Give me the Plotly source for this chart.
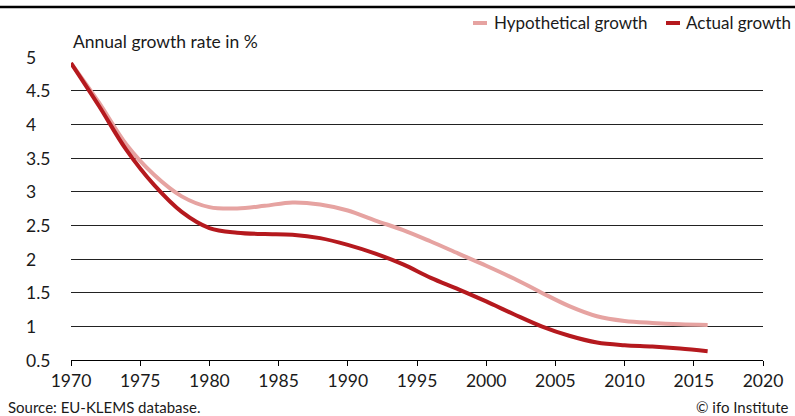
import plotly.graph_objects as go

# ---- data ----
years_actual = [1970, 1972, 1974, 1976, 1978, 1980, 1982, 1984, 1986, 1988, 1990, 1992, 1994,
                1996, 1998, 2000, 2002, 2004, 2006, 2008, 2010, 2012, 2014, 2016]
actual_growth = [4.91, 4.28, 3.62, 3.10, 2.70, 2.46, 2.39, 2.37, 2.36, 2.31, 2.21, 2.08, 1.92,
                 1.72, 1.55, 1.37, 1.18, 1.00, 0.86, 0.76, 0.72, 0.70, 0.67, 0.63]

years_hyp = [1970, 1972, 1974, 1976, 1978, 1980, 1982, 1984, 1986, 1988, 1990, 1992, 1994,
             1996, 1998, 2000, 2002, 2004, 2006, 2008, 2010, 2012, 2014, 2016]
hypothetical_growth = [4.91, 4.33, 3.70, 3.25, 2.93, 2.77, 2.75, 2.79, 2.84, 2.81, 2.72, 2.57,
                       2.43, 2.26, 2.08, 1.90, 1.71, 1.50, 1.30, 1.15, 1.08, 1.05, 1.03, 1.02]

series_names = ["Hypothetical growth", "Actual growth"]
series_colors = ["#e6a3a1", "#b5191e"]

x_ticks = [1970, 1975, 1980, 1985, 1990, 1995, 2000, 2005, 2010, 2015, 2020]
y_ticks = [0.5, 1, 1.5, 2, 2.5, 3, 3.5, 4, 4.5, 5]
y_tick_labels = ["0.5", "1", "1.5", "2", "2.5", "3", "3.5", "4", "4.5", "5"]

y_title = "Annual growth rate in %"
source_text = "Source: EU-KLEMS database."
credit_text = "© ifo Institute"

FONT = "Lato"
TXT = "#1a1a1a"
FS = 17.5

W, H = 795, 416
L, R, T, B = 71, 32, 57, 56
PW = W - L - R
PH = H - T - B

def px_x(px):
    return (px - L) / PW

def px_y(py):
    return (H - B - py) / PH

fig = go.Figure()
fig.add_trace(go.Scatter(x=years_hyp, y=hypothetical_growth, mode="lines",
                         name=series_names[0],
                         line=dict(color=series_colors[0], width=4, shape="spline", smoothing=1.0),
                         showlegend=False))
fig.add_trace(go.Scatter(x=years_actual, y=actual_growth, mode="lines",
                         name=series_names[1],
                         line=dict(color=series_colors[1], width=4, shape="spline", smoothing=1.0),
                         showlegend=False))

annotations = []
shapes = []

# y tick labels (left aligned)
for v, lab in zip(y_ticks, y_tick_labels):
    annotations.append(dict(x=px_x(24), y=v, xref="paper", yref="y", text=lab,
                            showarrow=False, xanchor="left", yanchor="middle",
                            font=dict(family=FONT, size=FS, color=TXT)))

# y axis title
annotations.append(dict(x=0, y=px_y(41), xref="paper", yref="paper", text=y_title,
                        showarrow=False, xanchor="left", yanchor="middle",
                        font=dict(family=FONT, size=FS, color=TXT)))

# legend (manual)
legend_items = [(473, 492), (666, 684)]
for (sx, tx), name, col in zip(legend_items, series_names, series_colors):
    shapes.append(dict(type="line", xref="paper", yref="paper",
                       x0=px_x(sx), x1=px_x(sx + 14), y0=px_y(23), y1=px_y(23),
                       line=dict(color=col, width=4)))
    annotations.append(dict(x=px_x(tx), y=px_y(23), xref="paper", yref="paper", text=name,
                            showarrow=False, xanchor="left", yanchor="middle",
                            font=dict(family=FONT, size=17, color=TXT)))

# top rule
shapes.append(dict(type="line", xref="paper", yref="paper",
                   x0=px_x(0), x1=px_x(W), y0=px_y(7), y1=px_y(7),
                   line=dict(color="#000000", width=2.5)))

# source / credit
annotations.append(dict(x=px_x(6), y=px_y(407), xref="paper", yref="paper", text=source_text,
                        showarrow=False, xanchor="left", yanchor="middle",
                        font=dict(family=FONT, size=15, color=TXT)))
annotations.append(dict(x=px_x(791), y=px_y(407), xref="paper", yref="paper", text=credit_text,
                        showarrow=False, xanchor="right", yanchor="middle",
                        font=dict(family=FONT, size=15, color=TXT)))

fig.update_layout(
    width=W, height=H,
    margin=dict(l=L, r=R, t=T, b=B, pad=0),
    paper_bgcolor="white", plot_bgcolor="white",
    annotations=annotations, shapes=shapes,
    xaxis=dict(range=[1970, 2020], tickvals=x_ticks, ticktext=[str(t) for t in x_ticks],
               showgrid=False, zeroline=False, showline=True, linecolor="#000", linewidth=1,
               ticks="outside", ticklen=5, tickwidth=1, tickcolor="#000",
               tickfont=dict(family=FONT, size=FS, color=TXT)),
    yaxis=dict(range=[0.5, 5], tickvals=y_ticks, showticklabels=False,
               showgrid=True, gridcolor="#222", gridwidth=1, zeroline=False,
               showline=False, ticks=""),
)

fig.write_html("out.html", config={"displayModeBar": False},
               post_script="document.body.style.margin='0';document.body.style.overflow='hidden';")
